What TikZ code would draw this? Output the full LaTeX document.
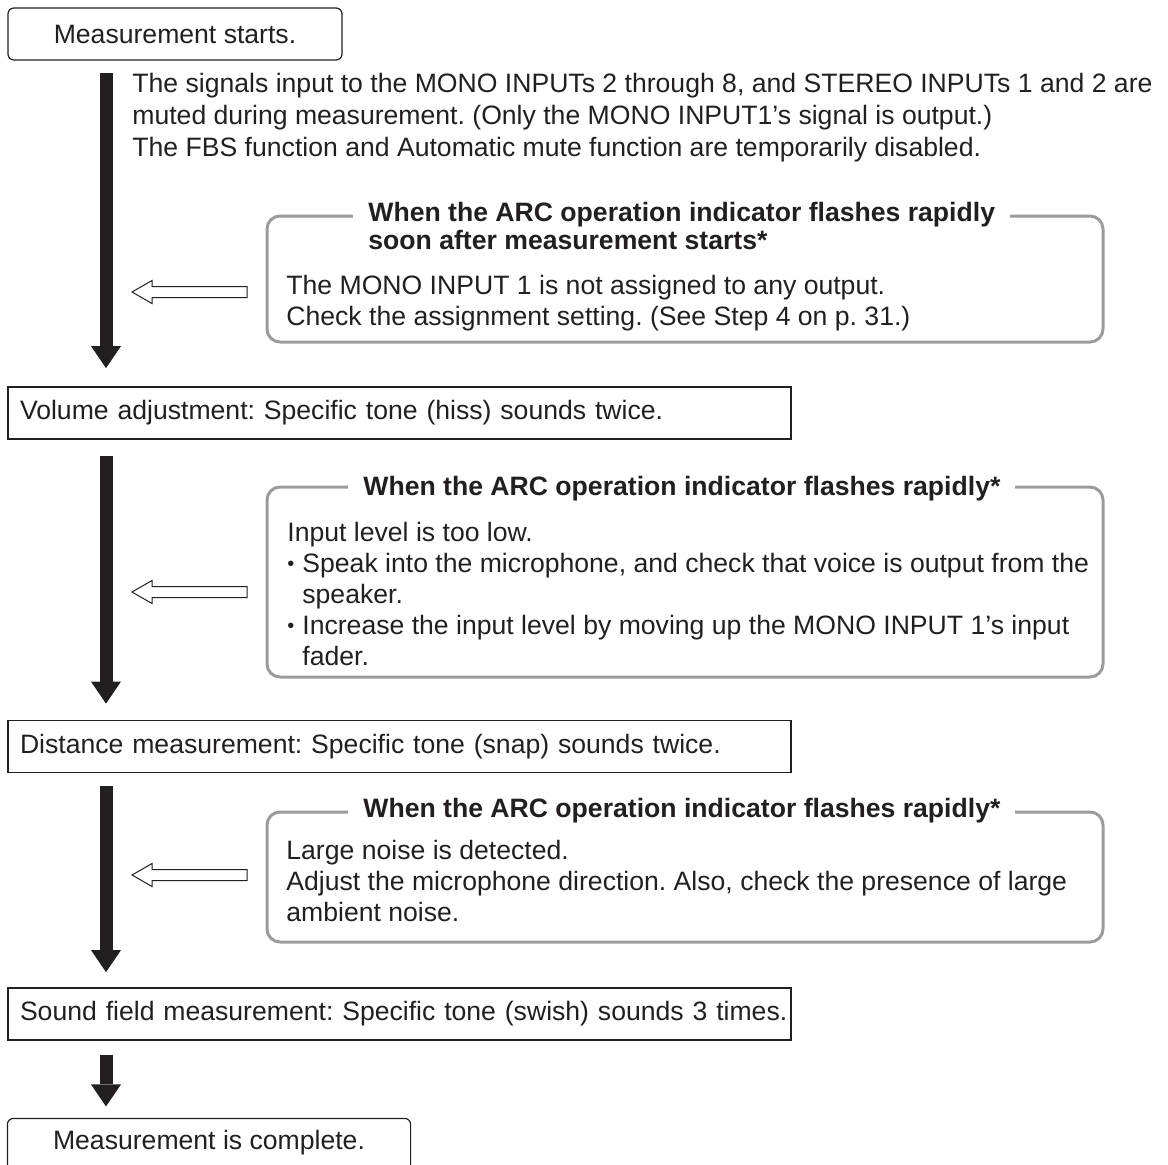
\documentclass[tikz,border=0pt]{standalone}
\usepackage{fontspec}
\setmainfont{Liberation Sans}
\usetikzlibrary{arrows.meta}
\definecolor{ink}{RGB}{35,31,32}
\definecolor{framegray}{RGB}{155,155,155}
\newcommand{\itm}{\makebox[7.5pt][l]{\raisebox{0.8pt}{\fontsize{10pt}{10pt}\selectfont•}}}
\tikzset{
    txt/.style={font=\fontsize{13.3pt}{15.5pt}\selectfont\frenchspacing, text=ink},
    endbox/.style={txt, draw=ink, line width=0.6pt, rounded corners=3pt, minimum width=167pt, minimum height=26pt, inner sep=0pt},
    stagebox/.style={txt, draw=ink, line width=0.9pt, minimum height=26pt, text width=379.5pt, inner xsep=6pt, inner ysep=0pt, align=left},
    warnframe/.style={draw=framegray, line width=1.5pt, rounded corners=6.5pt, minimum width=418pt, inner sep=0pt},
    warntitle/.style={txt, font=\fontsize{13.3pt}{14pt}\selectfont\bfseries, fill=white, inner xsep=7.5pt, inner ysep=1pt, align=left, anchor=west},
    warnbody/.style={txt, align=left, anchor=west, inner sep=0pt},
    flowarrow/.style={ink, line width=6.5pt, -{Triangle[width=15pt,length=11pt,line width=0pt]}},
    hollowarrow/.pic={
        \draw[ink, line width=0.5pt, fill=white] (0,-5.5) -- (-95,-5.5) -- (-95,-11.5) -- (-115,0) -- (-95,11.5) -- (-95,5.5) -- (0,5.5) -- cycle;
    }
}

\begin{document}
\begin{tikzpicture}[x=0.5pt, y=-0.5pt]

    \useasboundingbox (0,0) rectangle (1168,1164);

    % 1. Measurement starts
    \node[endbox] (start) at (175,34) {Measurement starts.};
    \node[txt, font=\fontsize{13.3pt}{16pt}\selectfont\frenchspacing, align=left, anchor=west, inner sep=0pt] (note) at (132,118)
        {The signals input to the MONO INPUTs 2 through 8, and STEREO INPUTs 1 and 2 are\\
         muted during measurement. (Only the MONO INPUT1's signal is output.)\\
         The FBS function and Automatic mute function are temporarily disabled.};

    % Warning: no assignment
    \node[warnframe, minimum height=63pt] (warn1) at (685,279) {};
    \node[warntitle] (warn1t) at (353,226) {When the ARC operation indicator flashes rapidly\\soon after measurement starts*};
    \node[warnbody] (warn1b) at (286,303)
        {The MONO INPUT 1 is not assigned to any output.\\
         Check the assignment setting. (See Step 4 on p. 31.)};
    \pic at (247,292) {hollowarrow};

    % 2. Volume adjustment
    \node[stagebox] (vol) at (399.5,413) {Volume adjustment: Specific tone (hiss) sounds twice.};

    % Warning: input level
    \node[warnframe, minimum height=95pt] (warn2) at (685,582) {};
    \node[warntitle] (warn2t) at (348,489) {When the ARC operation indicator flashes rapidly*};
    \node[warnbody] (warn2b) at (287,594)
        {Input level is too low.\\
         \itm Speak into the microphone, and check that voice is output from the\\
         \hspace*{7.5pt}speaker.\\
         \itm Increase the input level by moving up the MONO INPUT 1's input\\
         \hspace*{7.5pt}fader.};
    \pic at (247,592) {hollowarrow};

    % 3. Distance measurement
    \node[stagebox] (dist) at (399.5,746.5) {Distance measurement: Specific tone (snap) sounds twice.};

    % Warning: noise
    \node[warnframe, minimum height=65pt] (warn3) at (685,877) {};
    \node[warntitle] (warn3t) at (348,811) {When the ARC operation indicator flashes rapidly*};
    \node[warnbody] (warn3b) at (286,881)
        {Large noise is detected.\\
         Adjust the microphone direction. Also, check the presence of large\\
         ambient noise.};
    \pic at (247,875) {hollowarrow};

    % 4. Sound field measurement
    \node[stagebox] (snd) at (399.5,1014) {\mbox{Sound field measurement: Specific tone (swish) sounds 3 times.}};

    % 5. Measurement is complete (box runs off the bottom)
    \node[endbox, draw=none, minimum width=201pt, minimum height=24pt] (done) at (209,1143) {Measurement is complete.};
    \draw[ink, line width=0.6pt, rounded corners=3pt] (done.south west) |- (done.north) -| (done.south east);

    % Flow arrows
    \coordinate (ax) at (106,0);
    \draw[flowarrow, shorten <=6pt, shorten >=9pt] (start.south -| ax) -- (vol.north -| ax);
    \draw[flowarrow, shorten <=8pt, shorten >=8pt] (vol.south -| ax) -- (dist.north -| ax);
    \draw[flowarrow, shorten <=6.5pt, shorten >=7.5pt] (dist.south -| ax) -- (snd.north -| ax);
    \draw[flowarrow, shorten <=7pt, shorten >=6pt] (snd.south -| ax) -- (done.north -| ax);

\end{tikzpicture}
\end{document}
